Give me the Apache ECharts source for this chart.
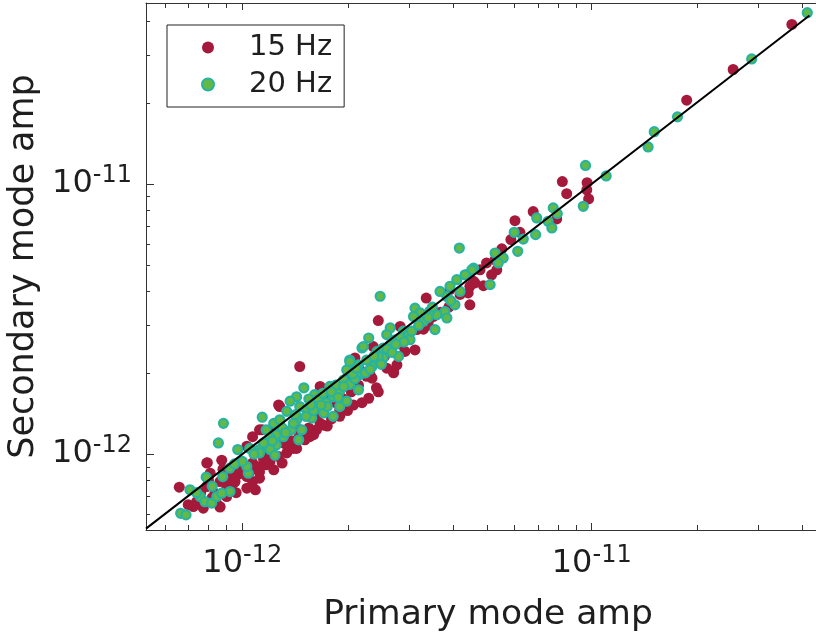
<!DOCTYPE html>
<html>
<head>
<meta charset="utf-8">
<script src="https://cdn.jsdelivr.net/npm/echarts@6/dist/echarts.min.js"></script>
<style>
  html, body { margin: 0; padding: 0; background: #ffffff; }
  #chart { width: 816px; height: 634px; }
</style>
</head>
<body>
<div id="chart"></div>
<script>
// Mode amplitudes: [primary, secondary]
const amp15Hz = [
  [3.74e-11, 3.89e-11], [2.54e-11, 2.65e-11], [1.87e-11, 2.04e-11],
  [8.24e-12, 1.02e-11], [9.7e-12, 1.01e-11], [8.48e-12, 9.2e-12], [9.68e-12, 9.5e-12],
  [9.8e-12, 8.8e-12], [6.8e-12, 7.9e-12], [7.94e-12, 7.42e-12], [6.03e-12, 7.31e-12],
  [6.23e-12, 6.62e-12], [5.87e-12, 6.22e-12], [5.53e-12, 5.75e-12], [5.29e-12, 5.24e-12],
  [5.0e-12, 5.1e-12], [5.35e-12, 4.81e-12], [5.17e-12, 4.61e-12], [4.79e-12, 4.81e-12],
  [4.59e-12, 4.36e-12], [4.9e-12, 4.2e-12], [4.48e-12, 4.18e-12], [4.48e-12, 3.57e-12],
  [4.63e-12, 4.3e-12], [4.43e-12, 3.95e-12], [3.93e-12, 4.06e-12], [3.36e-12, 3.78e-12],
  [2.45e-12, 3.12e-12], [3.52e-12, 3.23e-12], [3.41e-12, 3.1e-12], [3.26e-12, 3.01e-12],
  [3.16e-12, 2.89e-12], [2.83e-12, 2.97e-12], [3.12e-12, 2.43e-12], [2.92e-12, 2.4e-12],
  [2.37e-12, 2.5e-12], [2.62e-12, 2.43e-12], [2.59e-12, 2.08e-12], [2.71e-12, 2.02e-12],
  [2.32e-12, 1.97e-12], [2.1e-12, 2.27e-12], [1.46e-12, 2.11e-12], [2.42e-12, 1.76e-12],
  [2.35e-12, 1.91e-12], [1.67e-12, 1.78e-12], [1.28e-12, 1.5e-12], [1.2e-12, 1.23e-12],
  [1.63e-12, 1.23e-12], [1.56e-12, 1.16e-12], [1.43e-12, 1.05e-12], [1.34e-12, 1.01e-12],
  [1.27e-12, 9.8e-13], [2.08e-12, 1.52e-12], [1.9e-12, 1.38e-12], [2.3e-12, 1.61e-12],
  [1.71e-12, 1.28e-12], [1.51e-12, 1.13e-12], [1.37e-12, 1.07e-12], [1.14e-12, 1.23e-12],
  [1.27e-12, 1.52e-12], [1.12e-12, 1.23e-12], [1.03e-12, 1.07e-12], [7.94e-13, 9.3e-13],
  [8.73e-13, 9.5e-13], [8.09e-13, 8.5e-13], [8.63e-13, 7.92e-13], [9.53e-13, 7.92e-13],
  [1.03e-12, 7.48e-13], [1.07e-12, 7.92e-13], [1.12e-12, 8.15e-13], [1.09e-12, 7.38e-13],
  [9.7e-13, 8.4e-13], [6.6e-13, 7.55e-13], [7.4e-13, 6.67e-13], [7.73e-13, 6.31e-13],
  [8.63e-13, 6.37e-13], [8.35e-13, 7.17e-13], [7.24e-13, 6.4e-13], [7.91e-13, 7.59e-13],
  [1.03e-12, 8.26e-13], [1.17e-12, 9.13e-13], [1.23e-12, 8.75e-13], [1.1e-12, 9.0e-13],
  [1.3e-12, 9.27e-13], [1.07e-12, 1.16e-12], [1.34e-12, 1.08e-12], [2.71e-12, 2.0e-12],
  [1.9e-12, 1.46e-12], [1.4e-12, 1.05e-12], [1.67e-12, 1.3e-12], [2.27e-12, 1.94e-12],
  [2.17e-12, 2.05e-12], [1.99e-12, 1.91e-12], [1.74e-12, 1.63e-12], [1.46e-12, 1.23e-12],
  [1.31e-12, 1.1e-12], [1.23e-12, 1.07e-12], [1.07e-12, 9.27e-13], [1.0e-12, 8.5e-13],
  [9.43e-13, 7.81e-13], [9.02e-13, 6.97e-13], [8.63e-13, 6.4e-13], [7.91e-13, 9.27e-13],
  [8.0e-13, 8.03e-13], [1.75e-12, 1.27e-12], [2.0e-12, 1.45e-12], [2.2e-12, 1.55e-12],
  [2.45e-12, 1.7e-12], [1.6e-12, 1.18e-12], [2.77e-12, 2.14e-12],
  [9.0e-13, 8.0e-13], [9.3e-13, 8.3e-13], [1.15e-12, 9.6e-13], [1.2e-12, 9.4e-13],
  [1.38e-12, 1.12e-12], [1.5e-12, 1.2e-12], [1.85e-12, 1.55e-12], [2.05e-12, 1.7e-12],
  [2.5e-12, 2.2e-12], [2.85e-12, 2.55e-12], [3.3e-12, 2.9e-12], [3.7e-12, 3.35e-12],
  [7.0e-13, 6.5e-13], [8.2e-13, 6.9e-13], [9.8e-13, 8.9e-13], [1.05e-12, 8.6e-13],
  [9.0e-13, 7.4e-13], [9.6e-13, 7.2e-13], [8.4e-13, 6.7e-13], [1.12e-12, 8.6e-13],
  [1.18e-12, 1.0e-12], [1.45e-12, 1.15e-12], [1.55e-12, 1.25e-12], [1.65e-12, 1.4e-12],
  [1.8e-12, 1.35e-12], [1.95e-12, 1.6e-12], [2.15e-12, 1.8e-12], [2.55e-12, 2.3e-12],
  [2.95e-12, 2.65e-12], [3.4e-12, 3.0e-12], [3.9e-12, 3.5e-12], [4.2e-12, 3.9e-12],
  [7.6e-13, 7.2e-13], [8.8e-13, 8.8e-13]
];

const amp20Hz = [
  [4.14e-11, 4.3e-11], [2.87e-11, 2.9e-11], [1.76e-11, 1.77e-11], [1.51e-11, 1.56e-11],
  [1.45e-11, 1.37e-11], [1.1e-11, 1.07e-11], [9.6e-12, 1.17e-11], [9.46e-12, 8.26e-12],
  [7.76e-12, 8.15e-12], [7.97e-12, 7.76e-12], [6.96e-12, 7.48e-12], [7.5e-12, 7.27e-12],
  [7.69e-12, 6.87e-12], [6.91e-12, 6.49e-12], [6.0e-12, 6.62e-12], [6.37e-12, 6.25e-12],
  [6.14e-12, 5.63e-12], [4.18e-12, 5.79e-12], [5.58e-12, 5.32e-12], [5.29e-12, 5.55e-12],
  [5.4e-12, 5.1e-12], [4.59e-12, 4.88e-12], [4.39e-12, 4.61e-12], [4.11e-12, 4.42e-12],
  [5.12e-12, 4.24e-12], [3.93e-12, 4.18e-12], [4.54e-12, 4.81e-12], [4.34e-12, 4.61e-12],
  [2.48e-12, 3.84e-12], [3.68e-12, 4.0e-12], [3.85e-12, 3.83e-12], [4.06e-12, 3.57e-12],
  [3.8e-12, 3.37e-12], [3.85e-12, 3.19e-12], [3.6e-12, 3.28e-12], [3.44e-12, 3.38e-12],
  [3.12e-12, 3.47e-12], [3.23e-12, 3.33e-12], [3.09e-12, 3.23e-12], [3.56e-12, 2.89e-12],
  [2.89e-12, 2.85e-12], [2.99e-12, 2.77e-12], [2.65e-12, 2.93e-12], [2.59e-12, 2.77e-12],
  [2.74e-12, 2.65e-12], [2.83e-12, 2.69e-12], [3.02e-12, 2.65e-12], [2.8e-12, 2.3e-12],
  [2.3e-12, 2.69e-12], [2.2e-12, 2.47e-12], [2.43e-12, 2.4e-12], [2.53e-12, 2.47e-12],
  [2.65e-12, 2.54e-12], [2.53e-12, 2.27e-12], [2.4e-12, 2.2e-12], [2.35e-12, 2.11e-12],
  [2.27e-12, 2.23e-12], [2.15e-12, 2.14e-12], [2.03e-12, 2.23e-12], [1.99e-12, 2.05e-12],
  [2.17e-12, 1.97e-12], [2.22e-12, 2.5e-12], [2.03e-12, 2.2e-12], [2.15e-12, 2.0e-12],
  [1.95e-12, 1.88e-12], [2.03e-12, 1.81e-12], [2.15e-12, 1.73e-12], [1.9e-12, 1.71e-12],
  [1.78e-12, 1.78e-12], [1.61e-12, 1.66e-12], [1.5e-12, 1.76e-12], [1.43e-12, 1.63e-12],
  [1.46e-12, 1.5e-12], [1.37e-12, 1.57e-12], [1.34e-12, 1.44e-12], [1.14e-12, 1.37e-12],
  [1.17e-12, 1.23e-12], [1.23e-12, 1.3e-12], [1.28e-12, 1.34e-12], [1.53e-12, 1.46e-12],
  [1.63e-12, 1.5e-12], [1.74e-12, 1.55e-12], [1.82e-12, 1.63e-12], [1.71e-12, 1.42e-12],
  [1.58e-12, 1.36e-12], [1.43e-12, 1.34e-12], [1.48e-12, 1.23e-12], [1.38e-12, 1.23e-12],
  [1.31e-12, 1.16e-12], [1.25e-12, 1.08e-12], [1.17e-12, 1.07e-12], [1.12e-12, 1.04e-12],
  [1.05e-12, 1.05e-12], [1.82e-12, 1.38e-12], [1.9e-12, 1.5e-12], [1.99e-12, 1.57e-12],
  [1.45e-12, 1.13e-12], [8.83e-13, 1.3e-12], [8.54e-13, 1.1e-12], [9.7e-13, 1.04e-12],
  [9.2e-13, 8.87e-13], [7.88e-13, 8.22e-13], [8.79e-13, 8.26e-13], [9.22e-13, 7.27e-13],
  [1.04e-12, 8.5e-13], [1.03e-12, 9.0e-13], [1.0e-12, 9.4e-13], [7.08e-13, 7.38e-13],
  [7.57e-13, 6.97e-13], [7.82e-13, 6.67e-13], [8.17e-13, 6.59e-13], [8.45e-13, 6.97e-13],
  [8.73e-13, 7.17e-13], [6.66e-13, 6.04e-13], [6.9e-13, 5.96e-13], [1.12e-12, 1.01e-12],
  [1.2e-12, 1.04e-12], [1.24e-12, 9.9e-13], [1.25e-12, 1.18e-12], [1.55e-12, 1.6e-12],
  [1.65e-12, 1.6e-12], [1.7e-12, 1.68e-12], [1.85e-12, 1.8e-12], [2.1e-12, 1.9e-12],
  [2.45e-12, 2.3e-12], [2.6e-12, 2.45e-12], [2.9e-12, 2.6e-12], [3.3e-12, 3.1e-12],
  [3.5e-12, 3.5e-12], [3.95e-12, 3.7e-12], [4.2e-12, 4.0e-12], [1.4e-12, 1.3e-12],
  [1.3e-12, 1.25e-12], [1.2e-12, 1.15e-12], [1.6e-12, 1.45e-12], [1.75e-12, 1.5e-12],
  [2.25e-12, 2.0e-12], [2.5e-12, 2.15e-12],
  [1.08e-12, 1.0e-12], [1.15e-12, 1.1e-12], [1.22e-12, 1.12e-12], [1.33e-12, 1.2e-12],
  [1.42e-12, 1.4e-12], [1.52e-12, 1.38e-12], [1.57e-12, 1.52e-12], [1.68e-12, 1.52e-12],
  [1.8e-12, 1.7e-12], [1.88e-12, 1.62e-12], [1.95e-12, 1.78e-12], [2.07e-12, 1.98e-12],
  [2.12e-12, 2.08e-12], [2.32e-12, 2.06e-12], [2.38e-12, 2.3e-12], [2.68e-12, 2.38e-12],
  [2.75e-12, 2.55e-12], [3.05e-12, 2.85e-12], [3.2e-12, 3.0e-12], [3.4e-12, 3.2e-12],
  [9.5e-13, 9.2e-13], [8.2e-13, 7.6e-13], [7.4e-13, 7.2e-13]
];

// y = x reference line endpoints
const unityLine = [5.3e-13, 4.2e-11];

// axis extents
const primaryRange = [5.30e-13, 4.385e-11];
const secondaryRange = [5.24e-13, 4.67e-11];

// minor tick positions (2..9 times each decade)
const minorTicksPrimary = [6e-13, 7e-13, 8e-13, 9e-13,
  2e-12, 3e-12, 4e-12, 5e-12, 6e-12, 7e-12, 8e-12, 9e-12, 2e-11, 3e-11, 4e-11];
const minorTicksSecondary = [6e-13, 7e-13, 8e-13, 9e-13,
  2e-12, 3e-12, 4e-12, 5e-12, 6e-12, 7e-12, 8e-12, 9e-12, 2e-11, 3e-11, 4e-11];

const seriesNames = ['15 Hz', '20 Hz'];
const FONT = 'DejaVu Sans';
const AXIS_COLOR = '#333333';
const TEXT_COLOR = '#1e1e1e';

function powerLabel(value) {
  const e = Math.round(Math.log10(value));
  return '{b|10}{s|' + e + '}';
}
const labelRich = {
  b: { fontSize: 32, fontFamily: FONT, color: TEXT_COLOR },
  s: { fontSize: 24, fontFamily: FONT, color: TEXT_COLOR, padding: [0, 0, 16, 0] }
};

function minorTickItem(horizontal) {
  return function (params, api) {
    const cs = params.coordSys;
    const p = api.coord([api.value(0), api.value(1)]);
    const len = 5;
    const style = { stroke: AXIS_COLOR, lineWidth: 1 };
    if (horizontal) {
      const x = Math.round(p[0]) + 0.5;
      return { type: 'group', children: [
        { type: 'line', shape: { x1: x, y1: cs.y + cs.height, x2: x, y2: cs.y + cs.height - len }, style },
        { type: 'line', shape: { x1: x, y1: cs.y, x2: x, y2: cs.y + len }, style }
      ]};
    }
    const y = Math.round(p[1]) + 0.5;
    return { type: 'line', shape: { x1: cs.x, y1: y, x2: cs.x + len - 1, y2: y }, style };
  };
}

const chart = echarts.init(document.getElementById('chart'), null, { renderer: 'canvas' });

const baseX = {
  type: 'log',
  min: primaryRange[0],
  max: primaryRange[1],
  logBase: 10,
  axisLine: { show: true, lineStyle: { color: AXIS_COLOR, width: 1 } },
  axisTick: { show: true, inside: true, length: 7, lineStyle: { color: AXIS_COLOR } },
  splitLine: { show: false },
  minorTick: { show: false },
  minorSplitLine: { show: false }
};

chart.setOption({
  animation: false,
  backgroundColor: '#ffffff',
  grid: { left: 146, top: 3, right: 0, bottom: 104, containLabel: false, outerBoundsMode: 'none' },
  legend: {
    data: seriesNames,
    orient: 'vertical',
    left: 167,
    top: 25,
    width: 178,
    padding: [8, 12, 8, 34],
    itemGap: 8,
    itemWidth: 12,
    itemHeight: 12,
    icon: 'circle',
    borderColor: '#222222',
    borderWidth: 1,
    borderRadius: 0,
    backgroundColor: '#ffffff',
    textStyle: { fontFamily: FONT, fontSize: 29, color: TEXT_COLOR, padding: [0, 0, 0, 30] }
  },
  xAxis: [
    Object.assign({}, baseX, {
      position: 'bottom',
      name: 'Primary mode amp',
      nameLocation: 'middle',
      nameGap: 68,
      nameTextStyle: { fontFamily: FONT, fontSize: 34.5, color: TEXT_COLOR, padding: [0, 0, 0, 14] },
      axisLabel: { show: true, margin: 14, showMinLabel: false, showMaxLabel: false,
        formatter: powerLabel, rich: labelRich }
    }),
    Object.assign({}, baseX, {
      position: 'top',
      axisLabel: { show: false }
    })
  ],
  yAxis: {
    type: 'log',
    min: secondaryRange[0],
    max: secondaryRange[1],
    logBase: 10,
    name: 'Secondary mode amp',
    nameLocation: 'middle',
    nameGap: 102,
    nameTextStyle: { fontFamily: FONT, fontSize: 35, color: TEXT_COLOR },
    axisLine: { show: true, lineStyle: { color: AXIS_COLOR, width: 1 } },
    axisTick: { show: true, inside: true, length: 8, lineStyle: { color: AXIS_COLOR } },
    axisLabel: { show: true, margin: 14, showMinLabel: false, showMaxLabel: false,
      formatter: powerLabel, rich: labelRich },
    splitLine: { show: false },
    minorTick: { show: false }
  },
  series: [
    {
      name: seriesNames[0],
      type: 'scatter',
      data: amp15Hz,
      symbolSize: 11,
      itemStyle: { color: '#a51a3b', opacity: 1 },
      z: 2
    },
    {
      name: seriesNames[1],
      type: 'scatter',
      data: amp20Hz,
      symbolSize: 9,
      itemStyle: { color: '#62b946', borderColor: '#27b3a2', borderWidth: 2.2, opacity: 1 },
      z: 3
    },
    {
      type: 'line',
      data: [[unityLine[0], unityLine[0]], [unityLine[1], unityLine[1]]],
      showSymbol: false,
      symbol: 'none',
      lineStyle: { color: '#000000', width: 2 },
      silent: true,
      z: 4
    },
    {
      type: 'custom',
      silent: true,
      data: minorTicksPrimary.map(v => [v, secondaryRange[0]]),
      renderItem: minorTickItem(true),
      clip: false,
      z: 5
    },
    {
      type: 'custom',
      silent: true,
      data: minorTicksSecondary.map(v => [primaryRange[0], v]),
      renderItem: minorTickItem(false),
      clip: false,
      z: 5
    }
  ]
});
</script>
</body>
</html>
